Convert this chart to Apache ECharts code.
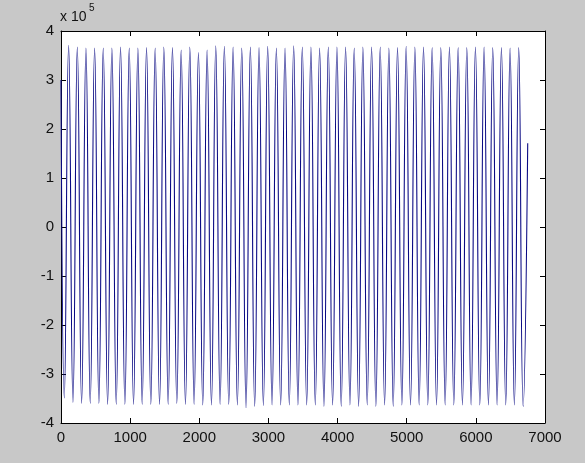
<!DOCTYPE html>
<html>
<head>
<meta charset="utf-8">
<script src="https://cdn.jsdelivr.net/npm/echarts@6/dist/echarts.min.js"></script>
<style>
  html, body { margin: 0; padding: 0; background: #c8c8c8; }
  #chart { width: 585px; height: 463px; }
</style>
</head>
<body>
<div id="chart"></div>
<script>
// values in units of 1e5 (axis shows "x 10^5")
const startPoint = [0, 3.0];
const endPoint = [6750, 1.71];

// troughs (sample index, value)
const troughX = [48, 173, 298, 423, 548, 674, 799, 924, 1049, 1174,
  1299, 1425, 1550, 1675, 1800, 1925, 2050, 2176, 2301, 2426,
  2551, 2676, 2801, 2927, 3052, 3177, 3302, 3427, 3553, 3678,
  3803, 3928, 4053, 4179, 4304, 4429, 4554, 4680, 4805, 4930,
  5055, 5180, 5305, 5431, 5556, 5681, 5806, 5931, 6057, 6182,
  6307, 6432, 6557, 6684];
const troughY = [-3.49, -3.58, -3.60, -3.60, -3.60, -3.62, -3.62, -3.62, -3.62, -3.62,
  -3.62, -3.62, -3.62, -3.60, -3.62, -3.62, -3.63, -3.63, -3.62, -3.62,
  -3.63, -3.69, -3.66, -3.645, -3.63, -3.63, -3.63, -3.63, -3.63, -3.63,
  -3.66, -3.63, -3.66, -3.63, -3.66, -3.63, -3.66, -3.63, -3.66, -3.63,
  -3.63, -3.63, -3.63, -3.63, -3.63, -3.63, -3.63, -3.63, -3.63, -3.63,
  -3.63, -3.63, -3.63, -3.66];

// peaks (sample index, value)
const peakX = [110, 236, 361, 486, 611, 736, 861, 987, 1112, 1237,
  1362, 1487, 1612, 1738, 1863, 1988, 2113, 2238, 2363, 2489,
  2614, 2739, 2864, 2989, 3115, 3240, 3365, 3490, 3615, 3740,
  3866, 3991, 4116, 4241, 4366, 4492, 4617, 4742, 4867, 4992,
  5118, 5243, 5368, 5493, 5618, 5744, 5869, 5994, 6119, 6244,
  6370, 6495, 6620];
const peakY = [3.71, 3.67, 3.65, 3.65, 3.65, 3.65, 3.67, 3.65, 3.65, 3.66,
  3.65, 3.67, 3.66, 3.61, 3.67, 3.56, 3.61, 3.70, 3.69, 3.67,
  3.65, 3.67, 3.66, 3.69, 3.65, 3.65, 3.70, 3.67, 3.67, 3.65,
  3.67, 3.67, 3.67, 3.65, 3.67, 3.67, 3.67, 3.65, 3.66, 3.69,
  3.67, 3.67, 3.66, 3.66, 3.67, 3.66, 3.66, 3.67, 3.67, 3.66,
  3.66, 3.65, 3.66];

const xTicks = [0, 1000, 2000, 3000, 4000, 5000, 6000, 7000];
const yTicks = [-4, -3, -2, -1, 0, 1, 2, 3, 4];

// trough, peak, trough, ... in order
const points = [startPoint];
troughX.forEach((x, i) => {
  points.push([x, troughY[i]]);
  if (i < peakX.length) points.push([peakX[i], peakY[i]]);
});
points.push(endPoint);

const chart = echarts.init(document.getElementById('chart'));
const font = 'Liberation Sans, Arial, sans-serif';
const axisLine = { show: true, onZero: false, lineStyle: { color: '#000', width: 1 } };
const tick = { show: true, inside: true, length: 5, lineStyle: { color: '#000' } };

chart.setOption({
  backgroundColor: '#c8c8c8',
  animation: false,
  grid: { left: 61, right: 40, top: 31, bottom: 40, show: true, backgroundColor: '#fff', borderWidth: 0 },
  xAxis: [{
    type: 'value', min: 0, max: 7000, interval: 1000,
    axisLine: axisLine, axisTick: tick, splitLine: { show: false },
    axisLabel: { color: '#111', fontSize: 15, fontFamily: font, margin: 7,
      formatter: v => xTicks.includes(v) ? String(v) : '' }
  }, {
    type: 'value', position: 'top', min: 0, max: 7000, interval: 1000,
    axisLine: axisLine, axisTick: tick, splitLine: { show: false }, axisLabel: { show: false }
  }],
  yAxis: [{
    type: 'value', min: -4, max: 4, interval: 1,
    axisLine: axisLine, axisTick: tick, splitLine: { show: false },
    axisLabel: { color: '#111', fontSize: 15, fontFamily: font, margin: 7,
      formatter: v => yTicks.includes(v) ? String(v) : '' }
  }, {
    type: 'value', position: 'right', min: -4, max: 4, interval: 1,
    axisLine: axisLine, axisTick: tick, splitLine: { show: false }, axisLabel: { show: false }
  }],
  graphic: [
    { type: 'text', left: 60, top: 10, style: { text: 'x 10', font: '14px ' + font, fill: '#111' } },
    { type: 'text', left: 89, top: 3, style: { text: '5', font: '10px ' + font, fill: '#111' } }
  ],
  series: [{
    type: 'line',
    data: points,
    smooth: 0.5,
    showSymbol: false,
    lineStyle: { color: '#0a0a84', width: 1.1 }
  }]
});
</script>
</body>
</html>
